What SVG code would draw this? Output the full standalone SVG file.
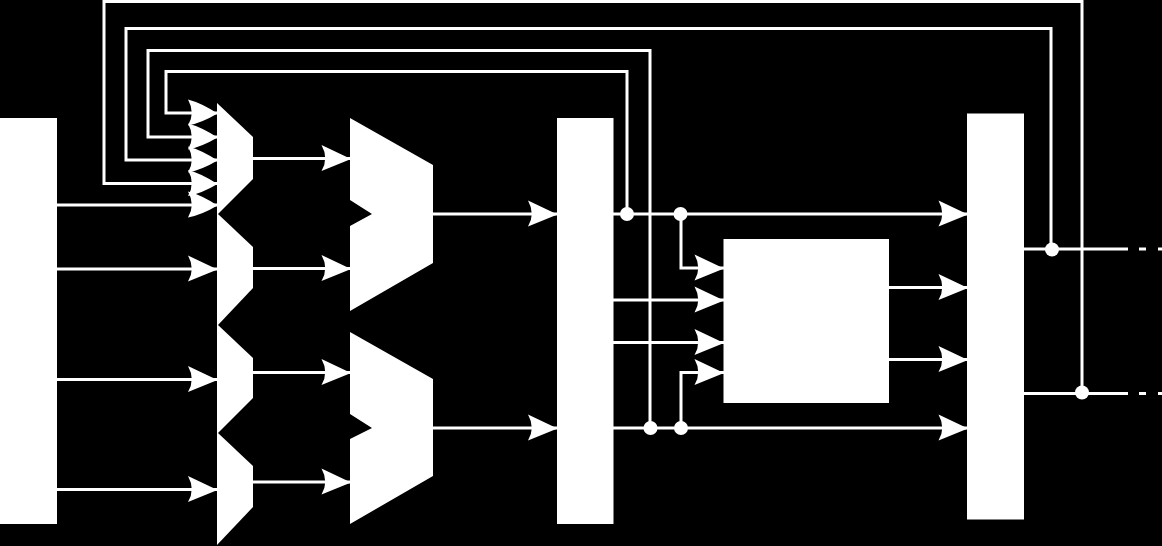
<svg xmlns="http://www.w3.org/2000/svg" width="1162" height="546" viewBox="0 0 1162 546">
<style>
.w{fill:#fff;stroke:none}
.c{fill:none;stroke:#fff;stroke-width:3}
</style>
<defs>
<marker id="a" markerUnits="userSpaceOnUse" markerWidth="32" markerHeight="30" refX="30" refY="15" orient="auto" overflow="visible">
<path d="M30,15.500 L0.500,1.500 Q8,15 0.500,27.500 Z" fill="#fff"/>
</marker>
<marker id="b" markerUnits="userSpaceOnUse" markerWidth="32" markerHeight="30" refX="30" refY="15" orient="auto" overflow="visible">
<path d="M30,15.500 Q14,5 0.500,1.500 Q8,15 0.500,27.500 Q14,25 30,15.500 Z" fill="#fff"/>
</marker>
</defs>
<rect width="1162" height="546" fill="#000"/>
<g id="connectors">
<path class="c" marker-end="url(#b)" d="M57,205H217.500"/>
<path class="c" marker-end="url(#a)" d="M57,269H217.500"/>
<path class="c" marker-end="url(#a)" d="M57,379.500H217.500"/>
<path class="c" marker-end="url(#a)" d="M57,489.500H217.500"/>
<path class="c" marker-end="url(#a)" d="M253,158.500H351"/>
<path class="c" marker-end="url(#a)" d="M253,268.500H351"/>
<path class="c" marker-end="url(#a)" d="M253,372.500H351"/>
<path class="c" marker-end="url(#a)" d="M253,482H351"/>
<path class="c" marker-end="url(#a)" d="M433,214H557.500"/>
<path class="c" marker-end="url(#a)" d="M433,428H557.500"/>
<path class="c" marker-end="url(#b)" d="M627,214V71.500H166V113H217.500"/>
<path class="c" marker-end="url(#b)" d="M650,428V50.500H148V137H217.500"/>
<path class="c" marker-end="url(#b)" d="M1051,249V28.500H126V160H217.500"/>
<path class="c" marker-end="url(#b)" d="M1082,393V1.500H104V183.500H217.500"/>
<path class="c" marker-end="url(#a)" d="M613,214H968"/>
<path class="c" marker-end="url(#a)" d="M613,428H968"/>
<path class="c" marker-end="url(#a)" d="M681,214V268H724"/>
<path class="c" marker-end="url(#a)" d="M613,300H724"/>
<path class="c" marker-end="url(#a)" d="M613,342.500H724"/>
<path class="c" marker-end="url(#a)" d="M681,428V372.500H724"/>
<path class="c" marker-end="url(#a)" d="M889,287.500H968"/>
<path class="c" marker-end="url(#a)" d="M889,359.500H968"/>
<path class="c" d="M1024,249H1128M1139,249H1146M1158,249H1162"/>
<path class="c" d="M1024,393.500H1128M1139,393.500H1146M1158,393.500H1162"/>
<circle class="w" cx="627" cy="214" r="7"/>
<circle class="w" cx="680.500" cy="214" r="7"/>
<circle class="w" cx="650.500" cy="428" r="7"/>
<circle class="w" cx="681" cy="428" r="7"/>
<circle class="w" cx="1052" cy="249.500" r="7"/>
<circle class="w" cx="1082" cy="392.500" r="7"/>
</g>
<g id="input-block"><rect class="w" x="0" y="118" width="57" height="406"/></g>
<g id="mux-a1"><path class="w" d="M217,103L253,137V179L218,214L217,214Z"/></g>
<g id="mux-a2"><path class="w" d="M217,214H218L253,247V288L218,325H217Z"/></g>
<g id="mux-a3"><path class="w" d="M217,325H218L253,358V398L218,433H217Z"/></g>
<g id="mux-a4"><path class="w" d="M217,433H218L253,466V507L217,545Z"/></g>
<g id="mux-b1"><path class="w" d="M350,118L433,165V263L350,311V226L372,214L350,200Z"/></g>
<g id="mux-b2"><path class="w" d="M350,332L433,379V476L350,524V439L372,428L350,414Z"/></g>
<g id="register"><rect class="w" x="557" y="118" width="56.500" height="406"/></g>
<g id="core"><rect class="w" x="723.500" y="239" width="165.500" height="164"/></g>
<g id="output-block"><rect class="w" x="967" y="113.500" width="57" height="406"/></g>
</svg>
